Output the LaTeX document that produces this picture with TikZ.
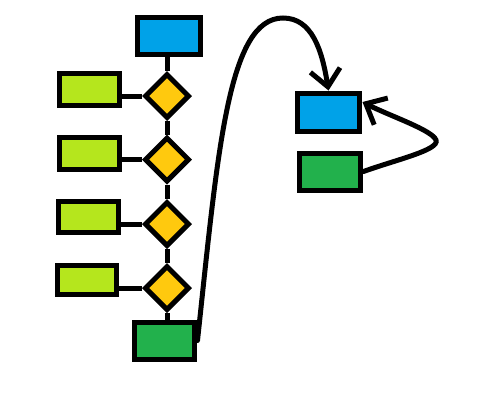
\documentclass[tikz,border=0pt]{standalone}
\usetikzlibrary{shapes.geometric,arrows.meta}
\definecolor{pblue}{RGB}{0,162,232}
\definecolor{plime}{RGB}{181,230,29}
\definecolor{pyellow}{RGB}{255,201,14}
\definecolor{pgreen}{RGB}{34,177,76}
\begin{document}
\begin{tikzpicture}[x=0.02cm,y=-0.02cm,
  box/.style={draw=black,line width=0.1cm,inner sep=0pt,rectangle},
  dia/.style={draw=black,line width=0.1cm,inner sep=0pt,diamond,fill=pyellow,minimum width=0.9cm,minimum height=0.9cm},
  link/.style={line width=0.1cm,draw=black},
  curvy/.style={line width=0.1cm,draw=black,line cap=round,-{Straight Barb[length=0.34cm,width=0.6cm]}}]
\useasboundingbox (0,0) rectangle (500,400);
\node[box,fill=pblue,minimum width=1.26cm,minimum height=0.74cm] (top) at (169,35.5) {};
\node[dia] (d1) at (167,96) {};
\node[dia] (d2) at (167,159.5) {};
\node[dia] (d3) at (167,224) {};
\node[dia] (d4) at (167,288) {};
\node[box,fill=plime,minimum width=1.22cm,minimum height=0.64cm] (l1) at (89.5,89) {};
\node[box,fill=plime,minimum width=1.22cm,minimum height=0.64cm] (l2) at (89.5,153) {};
\node[box,fill=plime,minimum width=1.22cm,minimum height=0.62cm] (l3) at (88.5,216.5) {};
\node[box,fill=plime,minimum width=1.2cm,minimum height=0.58cm] (l4) at (87,279.5) {};
\node[box,fill=pgreen,minimum width=1.22cm,minimum height=0.74cm] (bot) at (164.5,340.5) {};
\node[box,fill=pblue,minimum width=1.26cm,minimum height=0.76cm] (rb) at (328.5,112) {};
\node[box,fill=pgreen,minimum width=1.24cm,minimum height=0.74cm] (rg) at (330,171.5) {};
\draw[link] (d1.north |- top.south) -- (d1.north);
\draw[link] (d1.south) -- (d2.north);
\draw[link] (d2.south) -- (d3.north);
\draw[link] (d3.south) -- (d4.north);
\draw[link] (d4.south) -- (d4.south |- bot.north);
\draw[link] (d1.west) -- (d1.west -| l1.east);
\draw[link] (d2.west) -- (d2.west -| l2.east);
\draw[link] (d3.west) -- (d3.west -| l3.east);
\draw[link] (d4.west) -- (d4.west -| l4.east);
\draw[curvy] (bot.east) .. controls (218,150) and (228,18) .. (283,18) .. controls (312,18) and (322,50) .. (rb.north);
\draw[curvy] (rg.east) .. controls (395,160) and (440,150) .. (436,140) .. controls (432,130) and (390,116) .. ([yshift=0.2cm]rb.east);
\end{tikzpicture}
\end{document}
